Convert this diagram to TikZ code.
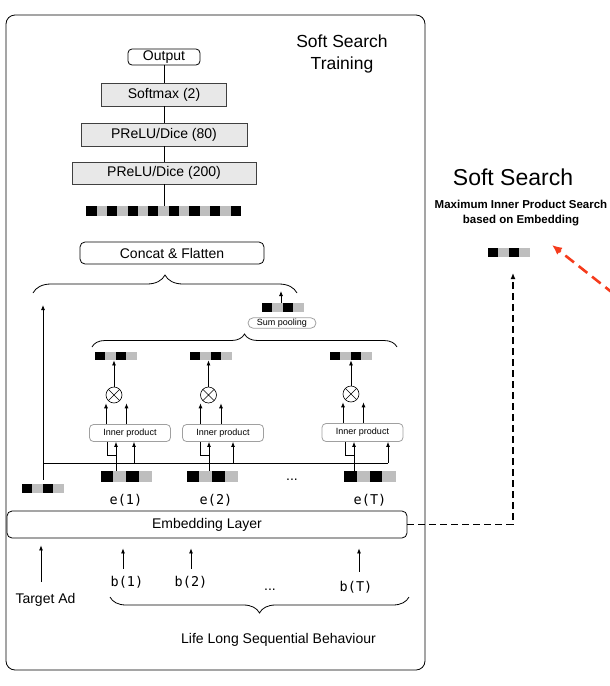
\documentclass[tikz,border=0pt]{standalone}
\usepackage{fontspec}
\setmainfont{Liberation Sans}
\newfontfamily\codefont{DejaVu Sans Mono}
\usepackage{tikz}
\usetikzlibrary{calc,positioning,arrows.meta,decorations.pathreplacing}
\definecolor{boxgray}{HTML}{E8E8E8}
\definecolor{cellgray}{HTML}{BEBEBE}
\definecolor{thingray}{HTML}{A0A0A0}
\definecolor{searchred}{HTML}{F53B1C}
\newcommand{\cellvec}[5]{%
  \node[fill=cellgray,inner sep=0pt,minimum width=#3*#4,minimum height=#5] (#1) at #2 {};
  \foreach \k in {1,3,...,#3}
    \fill ([xshift=(\k-1)*#4]#1.north west) rectangle ++(#4,-#5);
}

\begin{document}
\begin{tikzpicture}[x=1pt,y=1pt,line width=.8pt,
    arw/.style={-{Latex[length=5pt,width=4pt]}},
    txt/.style={inner sep=0pt,font=\fontsize{14}{16}\selectfont},
    code/.style={inner sep=0pt,font=\codefont\fontsize{13.5}{15}\selectfont},
    box/.style={txt,draw},
    netlayer/.style={box,fill=boxgray,draw=black!75},
    small/.style={draw=thingray,rounded corners=4pt,inner sep=0pt,font=\fontsize{9}{10}\selectfont},
    otimes/.style={circle,draw,minimum size=16pt,inner sep=0pt,line width=.6pt,
      path picture={\draw[line width=.6pt] (path picture bounding box.north west) -- (path picture bounding box.south east)
        (path picture bounding box.south west) -- (path picture bounding box.north east);}},
    dsh/.style={dash pattern=on 7pt off 4pt,line width=1.3pt,-{Latex[length=6pt,width=5pt]}},
    reddsh/.style={draw=searchred,dash pattern=on 11pt off 6pt,line width=2.6pt,-{Latex[length=10pt,width=9pt]}}]
  \useasboundingbox (0,0) rectangle (610,-686);
  \node[draw,rounded corners=9pt,minimum width=419,minimum height=655] (frame) at (215.5,-342.5) {};
  \node[align=center,font=\fontsize{17.5}{22}\selectfont] (train) at (342,-54) {Soft Search\\Training};

  \node[box,rounded corners=4pt,minimum width=72,minimum height=16] (out) at (164,-57) {Output};
  \node[netlayer,minimum width=125,minimum height=23] (smax) at (164,-94.5) {Softmax (2)};
  \node[netlayer,minimum width=166,minimum height=23] (p80) at (164,-134.5) {PReLU/Dice (80)};
  \node[netlayer,minimum width=184,minimum height=22] (p200) at (164,-173) {PReLU/Dice (200)};
  \cellvec{flat}{(164,-211)}{15}{10.3}{10}
  \draw (out) -- (smax) (smax) -- (p80) (p80) -- (p200) (p200) -- (flat);

  \node[box,rounded corners=5pt,minimum width=184,minimum height=22] (cat) at (172,-253) {Concat \& Flatten};
  \draw[decorate,decoration={brace,amplitude=18pt}] (33,-293) -- (297,-293);

  \cellvec{spv}{(283,-307.5)}{4}{10.5}{9}
  \node[small,rounded corners=5.25pt,minimum width=68,minimum height=10.5] (sp) at (282,-323) {Sum pooling};
  \coordinate (sptip) at (281,-291);
  \draw[arw] ([xshift=-2]spv.north) -- (sptip);
  \draw[decorate,decoration={brace,amplitude=13pt}] (92,-347) -- (397,-347);

  \cellvec{w1}{(116,-356)}{4}{10.5}{8}
  \cellvec{w2}{(211,-356)}{4}{10.5}{8}
  \cellvec{w3}{(351,-356)}{4}{10.5}{8}
  \node[otimes] (c1) at (114,-395) {};
  \node[otimes] (c2) at (208.5,-395) {};
  \node[otimes] (c3) at (351,-394) {};
  \draw[arw] (c1.north) -- (c1.north |- w1.south);
  \draw[arw] (c2.north) -- (c2.north |- w2.south);
  \draw[arw] (c3.north) -- (c3.north |- w3.south);

  \node[small,minimum width=81,minimum height=17] (ip1) at (130,-433) {Inner product};
  \node[small,minimum width=81,minimum height=17] (ip2) at (223,-433) {Inner product};
  \node[small,minimum width=81,minimum height=18] (ip3) at (362.5,-432.5) {Inner product};
  \draw[arw] ([xshift=-8]c1.south |- ip1.north) -- ([xshift=-8]c1.south);
  \draw[arw] ([xshift=12.5]c1.south |- ip1.north) -- ([xshift=12.5]c1.south);
  \draw[arw] ([xshift=-8]c2.south |- ip2.north) -- ([xshift=-8]c2.south);
  \draw[arw] ([xshift=12.5]c2.south |- ip2.north) -- ([xshift=12.5]c2.south);
  \draw[arw] ([xshift=-8]c3.south |- ip3.north) -- ([xshift=-8]c3.south);
  \draw[arw] ([xshift=12.5]c3.south |- ip3.north) -- ([xshift=12.5]c3.south);

  \cellvec{e1}{(126.5,-476.5)}{4}{12.75}{11}
  \cellvec{e2}{(212.5,-476.5)}{4}{12.75}{11}
  \cellvec{e3}{(370,-476.5)}{4}{12.75}{11}
  \node[txt] (edots) at (292,-480) {...};
  \node[code] (le1) at (126,-500) {e(1)};
  \node[code] (le2) at (216,-500) {e(2)};
  \node[code] (le3) at (370,-500) {e(T)};
  \draw[arw] ([xshift=-10.5]e1.north) -- ([xshift=-14]ip1.south);
  \draw[arw] ([xshift=-3.5]e2.north) -- ([xshift=-14]ip2.south);
  \draw[arw] ([xshift=-16]e3.north) -- ([xshift=-8.5]ip3.south);
  \draw ([xshift=-23]ip1.south) |- ([xshift=-10.5,yshift=15]e1.north);
  \draw ([xshift=-23]ip2.south) |- ([xshift=-3.5,yshift=15]e2.north);
  \draw ([xshift=-17.5]ip3.south) |- ([xshift=-16,yshift=15]e3.north);

  \cellvec{tgt}{(43,-488.5)}{4}{10.5}{9}
  \coordinate (tgttip) at (43,-305);
  \coordinate (bus) at (43,-463);
  \coordinate (busend) at (388,-463);
  \draw[arw] ([yshift=4]tgt.north) -- (tgttip);
  \draw (bus) -- (busend);
  \draw[arw] ([xshift=4]ip1.south |- bus) -- ([xshift=4]ip1.south);
  \draw[arw] ([xshift=10]ip2.south |- bus) -- ([xshift=10]ip2.south);
  \draw[arw] (busend) -- (busend |- ip3.south);

  \node[box,rounded corners=5pt,minimum width=400,minimum height=27] (emb) at (207,-524.5) {Embedding Layer};

  \node[txt] (tad) at (45.5,-600) {Target Ad};
  \node[code] (lb1) at (127,-582) {b(1)};
  \node[code] (lb2) at (191,-582) {b(2)};
  \node[txt] (bdots) at (270,-590) {...};
  \node[code] (lb3) at (356,-587) {b(T)};
  \draw[arw] ([xshift=-4.5,yshift=11]tad.north) -- ([xshift=-4.5,yshift=-7]tad.north |- emb.south);
  \draw[arw] ([xshift=-4,yshift=7]lb1.north) -- ([xshift=-4,yshift=-10]lb1.north |- emb.south);
  \draw[arw] ([yshift=7]lb2.north) -- ([yshift=-10]lb2.north |- emb.south);
  \draw[arw] ([xshift=3,yshift=9]lb3.north) -- ([xshift=3,yshift=-10]lb3.north |- emb.south);
  \draw[decorate,decoration={brace,amplitude=16pt}] (409,-597) -- (110,-597);
  \node[txt] (llsb) at (278.5,-640) {Life Long Sequential Behaviour};

  \node[font=\fontsize{23}{26}\selectfont] (ssT) at (513,-177) {Soft Search};
  \node[align=center,font=\bfseries\fontsize{11.5}{15}\selectfont] (ssSub) at (521,-213.5) {Maximum Inner Product Search\\based on Embedding};
  \cellvec{ssv}{(509,-252.5)}{4}{10.5}{9}
  \coordinate (sstip) at (513,-273);
  \draw[dsh] (emb.east) -| (sstip);
  \coordinate (redtail) at (614,-294);
  \coordinate (redtip) at (552,-245);
  \draw[reddsh] (redtail) -- (redtip);
\end{tikzpicture}
\end{document}
